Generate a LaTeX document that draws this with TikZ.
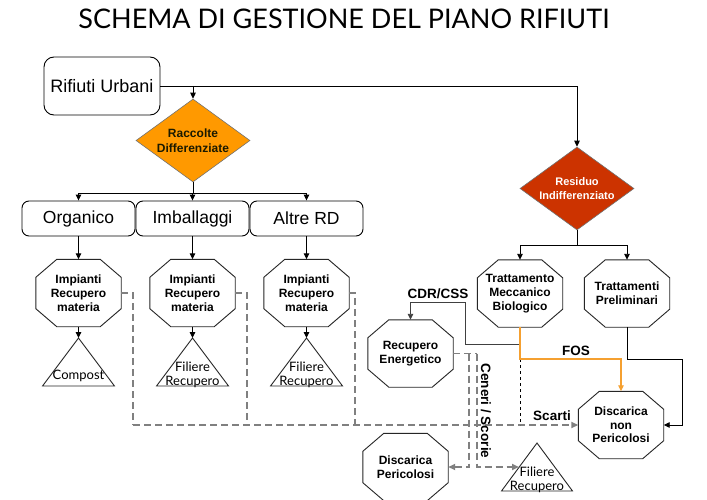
\documentclass[tikz,border=0pt]{standalone}
\usepackage{fontspec}
\setmainfont{Liberation Sans}
\newfontfamily\lato{Lato}
\usetikzlibrary{arrows.meta,shapes.geometric}
\definecolor{orng}{HTML}{FF9900}
\definecolor{rust}{HTML}{CC3300}
\definecolor{dgray}{HTML}{808080}
\definecolor{fosc}{HTML}{F5A030}
\definecolor{darktxt}{HTML}{1A1A00}
\newcommand\octo[5][]{%
  \node[octn,#1] (#2) at (#3,#4) {#5};
  \draw[octd] ([xshift=21pt]#2.north west) -- ([xshift=-21pt]#2.north east)
    -- ([yshift=-18pt]#2.north east) -- ([yshift=18pt]#2.south east)
    -- ([xshift=-21pt]#2.south east) -- ([xshift=21pt]#2.south west)
    -- ([yshift=18pt]#2.south west) -- ([yshift=-18pt]#2.north west) -- cycle;}
\begin{document}
\begin{tikzpicture}[x=1pt,y=-1pt,
 tip/.style={-{Triangle[length=6pt,width=5.5pt]}},
 conn/.style={line width=0.9pt, black},
 rbox/.style={draw, line width=0.9pt, rounded corners=7pt, minimum width=113pt, minimum height=35pt, inner sep=0pt, font=\fontsize{17.5}{20}\selectfont},
 octn/.style={minimum width=85pt, minimum height=67pt, inner sep=0pt, align=center, font=\bfseries\fontsize{12}{14}\selectfont},
 octd/.style={draw=black!85, line width=0.9pt},
 dia/.style={diamond, draw=black!55, line width=0.6pt, inner sep=0pt, minimum width=114pt, minimum height=83pt},
 tri/.style={draw=black!85, line width=0.9pt},
 tritext/.style={align=center, inner sep=0pt, font=\lato\fontsize{13}{14}\selectfont},
 gd/.style={draw=dgray, line width=1.8pt, dash pattern=on 7pt off 4pt},
 gtip/.style={-{Triangle[length=7pt,width=6pt]}},
 kd/.style={draw=black, line width=0.8pt, dash pattern=on 3pt off 3pt},
 cdr/.style={draw=black!75, line width=0.9pt},
 fos/.style={draw=fosc, line width=1.1pt},
 lab/.style={inner sep=0pt, font=\bfseries\fontsize{13.5}{16}\selectfont}
]
\fill[white] (0,0) rectangle (707,500);
\useasboundingbox (0,0) rectangle (707,500);

\node[font=\lato\fontsize{27}{30}\selectfont] (title) at (344,18.5) {SCHEMA DI GESTIONE DEL PIANO RIFIUTI};

% left part
\node[rbox, minimum width=116pt, minimum height=58pt, rounded corners=10pt, font=\fontsize{18}{20}\selectfont] (ru) at (102,86) {Rifiuti Urbani};
\node[dia, fill=orng] (rac) at (193,140.5) {};
\node[align=center, text=darktxt, font=\bfseries\fontsize{12}{15}\selectfont] (ractxt) at (rac.center) {Raccolte\\Differenziate};

\node[rbox] (org) at (78.5,218.5) {Organico};
\node[rbox] (imb) at (192.5,218.5) {Imballaggi};
\node[rbox] (alt) at (306.5,218.5) {Altre RD};

\octo{o1}{78.5}{293}{Impianti\\Recupero\\materia}
\octo{o2}{192.5}{293}{Impianti\\Recupero\\materia}
\octo{o3}{306.5}{293}{Impianti\\Recupero\\materia}

\coordinate (t1) at (78.5,338);
\coordinate (t2) at (192.5,338);
\coordinate (t3) at (306.5,338);
\foreach \t in {t1,t2,t3}{\draw[tri] (\t) -- ++(-36,48) -- ++(72,0) -- cycle;}
\node[tritext] (tx1) at (78.5,376) {Compost};
\node[tritext] (tx2) at (192.5,375) {Filiere\\Recupero};
\node[tritext] (tx3) at (306.5,375) {Filiere\\Recupero};

% right part
\node[dia, fill=rust] (rd) at (577,188.5) {};
\node[align=center, text=white, font=\bfseries\fontsize{11}{14}\selectfont] (rdtxt) at (rd.center) {Residuo\\Indifferenziato};

\octo{tmb}{520}{293.5}{Trattamento\\Meccanico\\Biologico}
\octo{tp}{627}{293.5}{Trattamenti\\Preliminari}
\octo{re}{410.5}{353.5}{Recupero\\Energetico}
\octo[font=\bfseries\fontsize{12}{13.5}\selectfont]{dnp}{621}{425}{Discarica\\non\\Pericolosi}
\octo{dp}{405.5}{467}{Discarica\\Pericolosi}

\coordinate (t4) at (537,443);
\draw[tri] (t4) -- ++(-35.5,48) -- ++(71,0) -- cycle;
\node[tritext] (tx4) at (537,480) {Filiere\\Recupero};

% connectors top
\draw[conn,tip] (ru.east) -| (rd.north);
\draw[conn,tip] (rac.north |- ru.east) -- (rac.north);
\coordinate (b1) at (193,193);
\draw[conn] (rac.south) -- (b1);
\draw[conn,tip] (b1) -| (org.north);
\draw[conn,tip] (b1) -| (alt.north);
\draw[conn,tip] (imb.north |- b1) -- (imb.north);
\draw[conn,tip] (org.south) -- (o1.north);
\draw[conn,tip] (imb.south) -- (o2.north);
\draw[conn,tip] (alt.south) -- (o3.north);
\draw[conn,tip] (o1.south) -- (t1);
\draw[conn,tip] (o2.south) -- (t2);
\draw[conn,tip] (o3.south) -- (t3);

% gray dashed scarti
\coordinate (c1) at (133,425);
\coordinate (c2) at (247,425);
\coordinate (c3) at (355,425);
\draw[gd] (o1.east) -| (c1);
\draw[gd] (o2.east) -| (c2);
\draw[gd] (o3.east) -| (c3);
\draw[gd,gtip] (c1) -- (dnp.west);

% residuo branches
\coordinate (b2) at (577,245);
\draw[conn] (rd.south) -- (b2);
\draw[conn,tip] (b2) -| (tmb.north);
\draw[conn,tip] (b2) -| (tp.north);

% CDR/CSS
\coordinate (k0) at (520,344);
\coordinate (k1) at (465,302);
\draw[cdr,tip] (k0) -| (k1) -| (re.north);

% FOS
\coordinate (f0) at (520,359);
\draw[kd] (f0) -- (tmb.south |- c1);
\draw[fos,-{Triangle[length=6pt,width=5.5pt]}] (tmb.south) -- (f0) -| (dnp.north);

% Trattamenti preliminari
\coordinate (p1) at (682,359);
\draw[conn,tip] (tp.south) |- (p1) |- (dnp.east);

% ceneri / scorie
\coordinate (g1) at (469,353.5);
\coordinate (g2) at (477,353.5);
\coordinate (t4w) at (519,467);
\draw[gd] (re.east) -- (g2);
\draw[gd,gtip] (g1) |- (dp.east);
\draw[gd,gtip] (g2) |- (t4w);

% labels
\node[lab] (lcdr) at (438,294) {CDR/CSS};
\node[lab] (lfos) at (576,351) {FOS};
\node[lab] (lsc) at (552,416) {Scarti};
\node[lab, rotate=-90] (lcen) at (486,411) {Ceneri / Scorie};
\end{tikzpicture}
\end{document}
